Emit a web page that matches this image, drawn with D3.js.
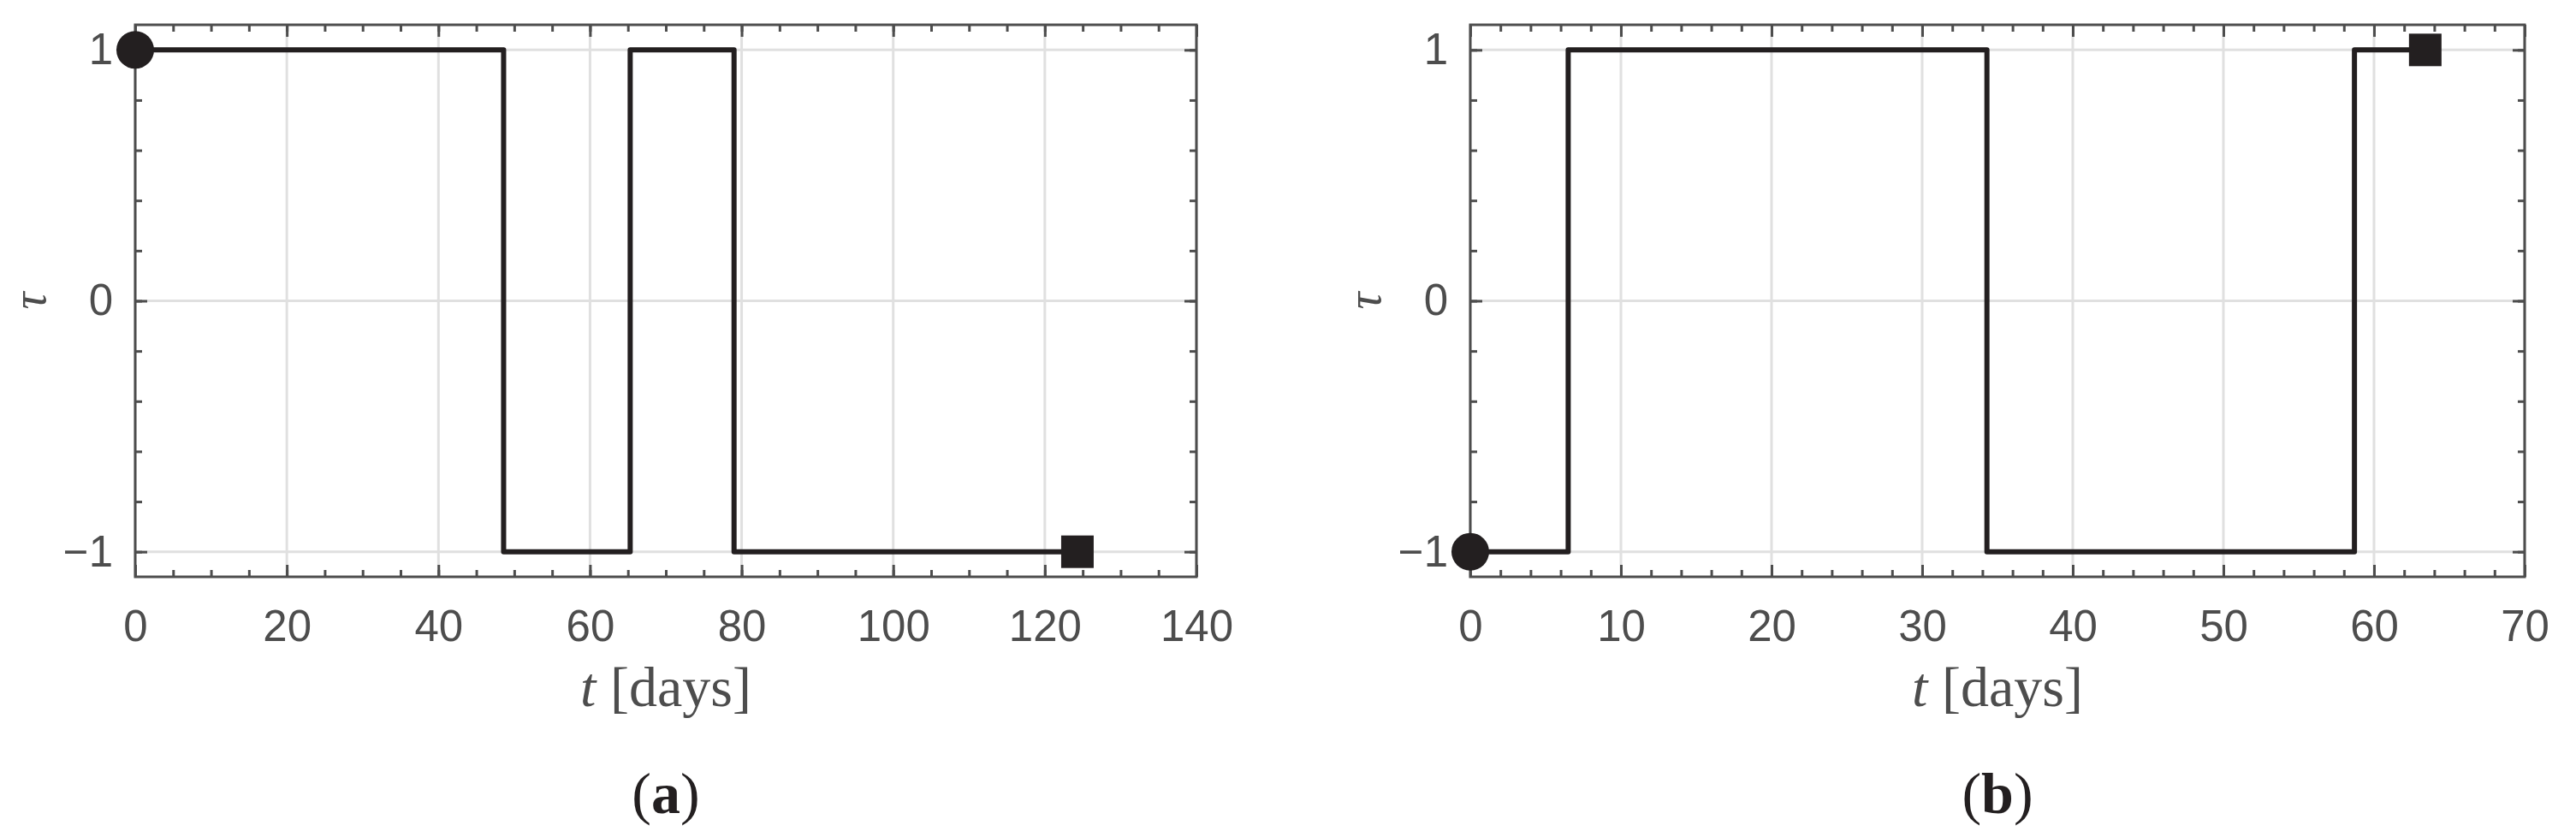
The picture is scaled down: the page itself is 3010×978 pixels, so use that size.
<!DOCTYPE html>
<html>
<head>
<meta charset="utf-8">
<script src="https://cdn.jsdelivr.net/npm/d3@7"></script>
<style>
    body { margin: 0; background: #fff; }
    .tick text { font-family: "Liberation Sans", Arial, sans-serif; font-size: 51px; fill: #4d4d4d; }
    .serif { font-family: "Liberation Serif", "Times New Roman", serif; }
</style>
</head>
<body>
<div id="chart"></div>
<script>
// Switching times (days) and tau values, panel (a)
const timesA = [0, 48.6, 65.3, 79, 124.3];
const tauA = [1, -1, 1, -1, -1];

// Switching times (days) and tau values, panel (b)
const timesB = [0, 6.5, 34.3, 58.7, 63.4];
const tauB = [-1, 1, -1, 1, 1];

// Tick labels
const xTicksA = [0, 20, 40, 60, 80, 100, 120, 140];
const xTicksB = [0, 10, 20, 30, 40, 50, 60, 70];
const yTicks = [-1, 0, 1];
const captions = ["a", "b"];

const axisColor = "#4d4d4d";
const lineColor = "#231f20";
const gridColor = "#e0e0e0";

const svg = d3.select("#chart")
    .append("svg")
    .attr("width", 3010)
    .attr("height", 978);

svg.append("rect").attr("width", 3010).attr("height", 978).attr("fill", "#fff");

function drawPanel(cfg) {
    const dims = { left: cfg.left, right: cfg.right, top: 29, bottom: 674 };

    const xScale = d3.scaleLinear().domain([0, cfg.xTicks[cfg.xTicks.length - 1]]).range([dims.left, dims.right]);
    const yScale = d3.scaleLinear().domain([-1.1, 1.1]).range([dims.bottom, dims.top]);

    const g = svg.append("g");

    // Grid lines at major ticks
    g.selectAll(".vgrid")
        .data(cfg.xTicks)
        .join("line")
        .attr("x1", d => xScale(d)).attr("x2", d => xScale(d))
        .attr("y1", dims.top).attr("y2", dims.bottom)
        .attr("stroke", gridColor).attr("stroke-width", 3);

    g.selectAll(".hgrid")
        .data(yTicks)
        .join("line")
        .attr("x1", dims.left).attr("x2", dims.right)
        .attr("y1", d => yScale(d)).attr("y2", d => yScale(d))
        .attr("stroke", gridColor).attr("stroke-width", 3);

    const xMinor = d3.range(0, xScale.domain()[1] + 1e-9, cfg.minorStep);
    const yMinor = d3.range(-1, 1.0001, 0.2);

    // Helper to add an axis with inward ticks
    function addAxis(axis, transform, labels) {
        const a = g.append("g")
            .attr("transform", transform)
            .attr("color", axisColor)
            .call(axis);
        a.select(".domain").remove();
        a.selectAll(".tick line").attr("stroke-width", 3);
        if (!labels) a.selectAll(".tick text").remove();
        return a;
    }

    // Minor ticks on all four sides
    addAxis(d3.axisBottom(xScale).tickValues(xMinor).tickSize(-8), `translate(0,${dims.bottom})`, false);
    addAxis(d3.axisTop(xScale).tickValues(xMinor).tickSize(-8), `translate(0,${dims.top})`, false);
    addAxis(d3.axisLeft(yScale).tickValues(yMinor).tickSize(-8), `translate(${dims.left},0)`, false);
    addAxis(d3.axisRight(yScale).tickValues(yMinor).tickSize(-8), `translate(${dims.right},0)`, false);

    // Major ticks
    addAxis(d3.axisBottom(xScale).tickValues(cfg.xTicks).tickSize(-14).tickPadding(39).tickFormat(d3.format("d")),
        `translate(0,${dims.bottom})`, true);
    addAxis(d3.axisTop(xScale).tickValues(cfg.xTicks).tickSize(-14), `translate(0,${dims.top})`, false);
    addAxis(d3.axisLeft(yScale).tickValues(yTicks).tickSize(-14).tickPadding(26).tickFormat(d3.format("d")),
        `translate(${dims.left},0)`, true);
    addAxis(d3.axisRight(yScale).tickValues(yTicks).tickSize(-14), `translate(${dims.right},0)`, false);

    // Frame
    g.append("rect")
        .attr("x", dims.left).attr("y", dims.top)
        .attr("width", dims.right - dims.left)
        .attr("height", dims.bottom - dims.top)
        .attr("fill", "none")
        .attr("stroke", axisColor)
        .attr("stroke-width", 3);

    // Step line
    const points = cfg.times.map((t, i) => ({ t: t, v: cfg.tau[i] }));
    const line = d3.line()
        .x(d => xScale(d.t))
        .y(d => yScale(d.v))
        .curve(d3.curveStepAfter);

    g.append("path")
        .datum(points)
        .attr("d", line)
        .attr("fill", "none")
        .attr("stroke", lineColor)
        .attr("stroke-width", 6)
        .attr("stroke-linejoin", "round");

    // Start and end markers
    const first = points[0];
    const last = points[points.length - 1];
    g.append("circle")
        .attr("cx", xScale(first.t)).attr("cy", yScale(first.v))
        .attr("r", 22)
        .attr("fill", lineColor);
    g.append("rect")
        .attr("x", xScale(last.t) - 19).attr("y", yScale(last.v) - 19)
        .attr("width", 38).attr("height", 38)
        .attr("fill", lineColor);

    // Y label
    g.append("text")
        .attr("class", "serif")
        .attr("transform", `translate(${dims.left - 105}, ${yScale(0)}) rotate(-90)`)
        .attr("text-anchor", "middle")
        .attr("font-size", 56)
        .attr("font-style", "italic")
        .attr("fill", axisColor)
        .text("τ");

    const cx = (dims.left + dims.right) / 2;

    // X label
    const xl = g.append("text")
        .attr("class", "serif")
        .attr("x", cx).attr("y", 825)
        .attr("text-anchor", "middle")
        .attr("font-size", 66)
        .attr("fill", axisColor);
    xl.append("tspan").attr("font-style", "italic").text("t");
    xl.append("tspan").text(" [days]");

    // Caption
    const cap = g.append("text")
        .attr("class", "serif")
        .attr("x", cx).attr("y", 950)
        .attr("text-anchor", "middle")
        .attr("font-size", 68)
        .attr("fill", lineColor);
    cap.append("tspan").text("(");
    cap.append("tspan").attr("font-weight", "bold").text(cfg.caption);
    cap.append("tspan").text(")");
}

drawPanel({ left: 158, right: 1398, times: timesA, tau: tauA, xTicks: xTicksA, minorStep: 5, caption: captions[0] });
drawPanel({ left: 1718, right: 2950, times: timesB, tau: tauB, xTicks: xTicksB, minorStep: 2, caption: captions[1] });
</script>
</body>
</html>
